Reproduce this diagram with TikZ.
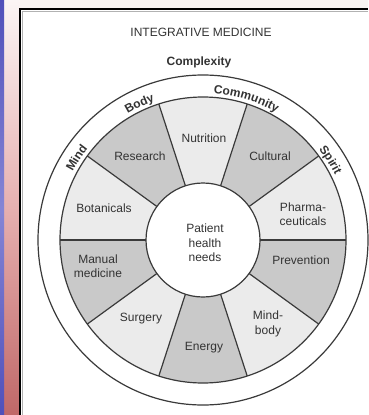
\documentclass[tikz,border=0pt]{standalone}
\usepackage{fontspec}
\setmainfont{Liberation Sans}
\usetikzlibrary{decorations.text}
\definecolor{txt}{HTML}{333333}
\definecolor{lightseg}{HTML}{EBEBEB}
\definecolor{darkseg}{HTML}{C9C9C9}
\definecolor{edge}{HTML}{3A3A3A}
\definecolor{topband}{HTML}{F8F4F2}
\definecolor{pinktop}{HTML}{FBF5F5}
\definecolor{pinkmid}{HTML}{E6B0B0}
\definecolor{pinkbot}{HTML}{C06868}
\definecolor{bluestrip}{HTML}{5050BA}
\definecolor{bluemid}{HTML}{8585D5}
\tikzset{
  lbl/.style={text=txt, font=\fontsize{12}{14.5}\selectfont, align=center, inner sep=0pt},
  ring/.style={draw=edge, line width=1.2pt},
}
\newcommand{\CurvedLabel}[3]{% angle, halfspan, text
  \path[decorate, decoration={text along path, text align=center,
    text={|\fontsize{12}{14}\selectfont\bfseries\color{txt}|#3}}]
    ($(C)+(#1+#2:147)$) arc[start angle=#1+#2, end angle=#1-#2, radius=147];
}
\usetikzlibrary{calc}
\begin{document}
\begin{tikzpicture}[x=1pt,y=1pt]
\useasboundingbox (0,0) rectangle (368,-415);
% background
\fill[topband] (0,0) rectangle (368,-415);
\shade[top color=pinktop, bottom color=pinkbot, middle color=pinkmid] (0,0) rectangle (20,-415);
\shade[top color=bluestrip, bottom color=bluestrip, middle color=bluemid] (0,0) rectangle (4,-415);
\fill[white] (20,-9) rectangle (368,-415);
\draw[gray!60, line width=1pt] (22.5,-415) -- (22.5,-11.5) -- (368,-11.5);
\draw[black, line width=2.4pt] (20.2,-415) -- (20.2,-9.2) -- (368,-9.2);

\coordinate (C) at (203,-240);
% outer circle
\draw[ring] (C) circle[radius=165];
% segments
\foreach \a/\col in {108/lightseg,144/darkseg,180/lightseg,216/darkseg,252/lightseg,288/darkseg,324/lightseg,360/darkseg,396/lightseg,432/darkseg}{
  \fill[\col] ($(C)+(\a-36:57)$) arc[start angle=\a-36, end angle=\a, radius=57]
     -- ($(C)+(\a:143)$) arc[start angle=\a, end angle=\a-36, radius=143] -- cycle;
}
\foreach \a in {0,36,...,324}{
  \draw[ring] ($(C)+(\a:57)$) -- ($(C)+(\a:143)$);
}
\draw[ring] (C) circle[radius=143];
\draw[ring, fill=white] (C) circle[radius=57];

% titles
\node[lbl] (title) at (201,-32) {INTEGRATIVE MEDICINE};
\node[lbl, font=\fontsize{12}{14}\selectfont\bfseries] (complexity) at (199,-62) {Complexity};

% curved ring labels
\CurvedLabel{115}{20}{Body}
\CurvedLabel{73}{30}{Community}
\CurvedLabel{147}{15}{Mind}
\CurvedLabel{32}{18}{Spirit}

% segment labels
\node[lbl] (nutrition) at (204,-138) {Nutrition};
\node[lbl] (research) at (140,-156) {Research};
\node[lbl] (cultural) at (270,-156) {Cultural};
\node[lbl] (botanicals) at (104,-208) {Botanicals};
\node[lbl] (pharma) at (303,-214) {Pharma-\\ceuticals};
\node[lbl] (manual) at (98,-266) {Manual\\medicine};
\node[lbl] (prevention) at (301,-260) {Prevention};
\node[lbl] (surgery) at (141,-319) {Surgery};
\node[lbl] (mindbody) at (268,-324) {Mind-\\body};
\node[lbl] (energy) at (204,-348) {Energy};
\node[lbl] (patient) at (205,-243) {Patient\\health\\needs};
\end{tikzpicture}
\end{document}
